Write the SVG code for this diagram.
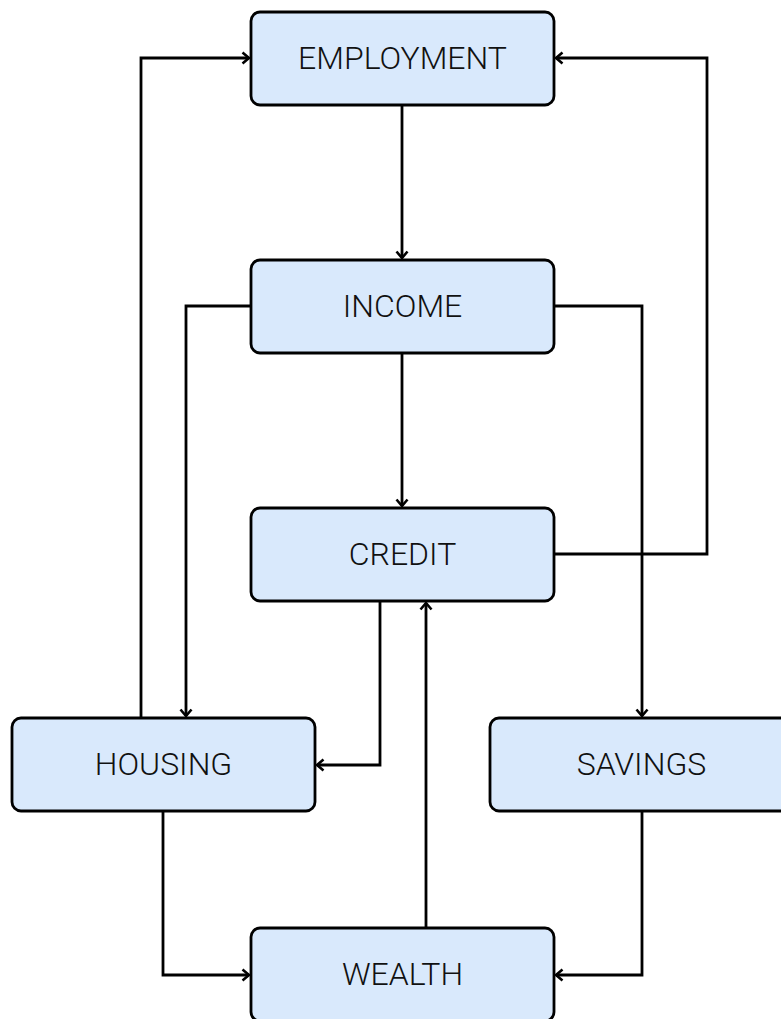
<svg xmlns="http://www.w3.org/2000/svg" width="781" height="1019" viewBox="0 0 781 1019">
<style>
.box{fill:#d9e9fc;stroke:#000;stroke-width:2.8}
.lbl{font-family:Roboto,"Noto Sans",sans-serif;font-weight:300;font-size:32px;fill:#111;text-anchor:middle;dominant-baseline:central}
.edge{fill:none;stroke:#000;stroke-width:2.8}
</style>
<defs>
<marker id="ah" viewBox="0 0 14 14" refX="11" refY="7" markerWidth="14" markerHeight="14" markerUnits="userSpaceOnUse" orient="auto">
<path d="M4.5,1.5 L11,7 L4.5,12.5" fill="none" stroke="#000" stroke-width="2.6"/>
</marker>
</defs>
<g id="connectors">
<path class="edge" d="M402,105 V258" marker-end="url(#ah)"/>
<path class="edge" d="M402,353 V506" marker-end="url(#ah)"/>
<path class="edge" d="M251,306 H186 V716" marker-end="url(#ah)"/>
<path class="edge" d="M554,306 H642 V716" marker-end="url(#ah)"/>
<path class="edge" d="M554,554 H707 V58 H556" marker-end="url(#ah)"/>
<path class="edge" d="M141,718 V58 H249" marker-end="url(#ah)"/>
<path class="edge" d="M380,601 V765 H317" marker-end="url(#ah)"/>
<path class="edge" d="M426,928 V603" marker-end="url(#ah)"/>
<path class="edge" d="M163,811 V975 H249" marker-end="url(#ah)"/>
<path class="edge" d="M642,811 V975 H556" marker-end="url(#ah)"/>
</g>
<g id="employment"><rect class="box" x="251" y="12" width="303" height="93" rx="9"/><text class="lbl" x="402.5" y="58">EMPLOYMENT</text></g>
<g id="income"><rect class="box" x="251" y="260" width="303" height="93" rx="9"/><text class="lbl" x="402.5" y="306">INCOME</text></g>
<g id="credit"><rect class="box" x="251" y="508" width="303" height="93" rx="9"/><text class="lbl" x="402.5" y="554">CREDIT</text></g>
<g id="housing"><rect class="box" x="12" y="718" width="303" height="93" rx="9"/><text class="lbl" x="163.5" y="764">HOUSING</text></g>
<g id="savings"><rect class="box" x="490" y="718" width="303" height="93" rx="9"/><text class="lbl" x="641.5" y="764">SAVINGS</text></g>
<g id="wealth"><rect class="box" x="251" y="928" width="303" height="93" rx="9"/><text class="lbl" x="402.5" y="974">WEALTH</text></g>
</svg>
